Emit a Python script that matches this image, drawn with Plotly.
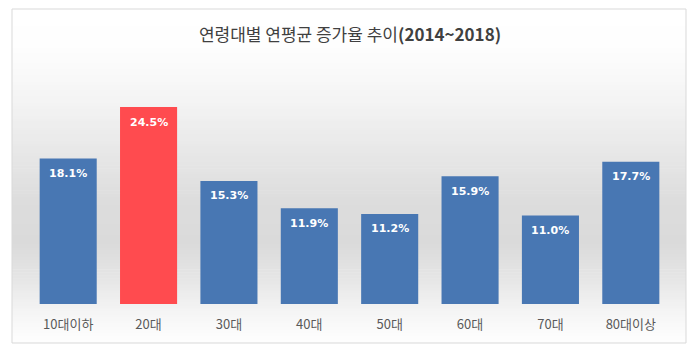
import plotly.graph_objects as go

categories = ["10대이하", "20대", "30대", "40대", "50대", "60대", "70대", "80대이상"]
values = [18.1, 24.5, 15.3, 11.9, 11.2, 15.9, 11.0, 17.7]
labels = ["18.1%", "24.5%", "15.3%", "11.9%", "11.2%", "15.9%", "11.0%", "17.7%"]
bar_colors = ["#4877B3", "#FF4B4F", "#4877B3", "#4877B3", "#4877B3", "#4877B3", "#4877B3", "#4877B3"]

W, H = 700, 353
L, R, T, B = 28, 29, 60, 49
pw, ph = W - L - R, H - T - B

def px(x):
    return (x - L) / pw

def py(y):
    return (H - B - y) / ph

fig = go.Figure()
fig.add_trace(go.Bar(
    x=categories, y=values,
    marker=dict(color=bar_colors, line=dict(width=0)),
    cliponaxis=False, hoverinfo="skip",
))

annotations = [
    dict(x=c, y=v, xref="x", yref="y", text=t, showarrow=False, yshift=-15,
         xanchor="center", yanchor="middle",
         font=dict(family="DejaVu Sans", size=11, color="white", weight="bold"))
    for c, v, t in zip(categories, values, labels)
]

# background gradient bands inside frame
stops = [(9, 255), (45, 254), (100, 244), (150, 232), (200, 221), (245, 218), (285, 232), (315, 246), (343, 254)]
shapes = []
fx0, fx1 = 12, 686
for i in range(len(stops) - 1):
    y0, c0 = stops[i]
    y1, c1 = stops[i + 1]
    n = max(1, int((y1 - y0) / 3))
    for k in range(n):
        ya = y0 + (y1 - y0) * k / n
        yb = y0 + (y1 - y0) * (k + 1) / n
        c = int(round(c0 + (c1 - c0) * (k + 0.5) / n))
        shapes.append(dict(type="rect", xref="paper", yref="paper",
                           x0=px(fx0), x1=px(fx1), y0=py(yb), y1=py(ya) + 0.002,
                           fillcolor=f"rgb({c},{c},{c})", line=dict(width=0), layer="below"))
shapes.append(dict(type="rect", xref="paper", yref="paper",
                   x0=px(fx0), x1=px(fx1), y0=py(343), y1=py(9),
                   fillcolor="rgba(0,0,0,0)", line=dict(color="#D9D9D9", width=1), layer="below"))

fig.update_layout(
    width=W, height=H,
    margin=dict(l=L, r=R, t=T, b=B, pad=0),
    paper_bgcolor="white", plot_bgcolor="rgba(0,0,0,0)",
    bargap=0.29, showlegend=False,
    shapes=shapes, annotations=annotations,
    title=dict(text="연령대별 연평균 증가율 추이<b>(2014~2018)</b>", x=0.5, xanchor="center",
               y=1 - 35 / H, yanchor="middle",
               font=dict(family="Noto Sans CJK KR", size=17, color="#404040")),
    xaxis=dict(showgrid=False, zeroline=False, showline=False, ticks="outside", ticklen=8,
               tickcolor="rgba(0,0,0,0)",
               tickfont=dict(family="Noto Sans CJK KR", size=13, color="#595959")),
    yaxis=dict(range=[0, ph / 8.04], visible=False, fixedrange=True),
)

fig.write_html("out.html")
